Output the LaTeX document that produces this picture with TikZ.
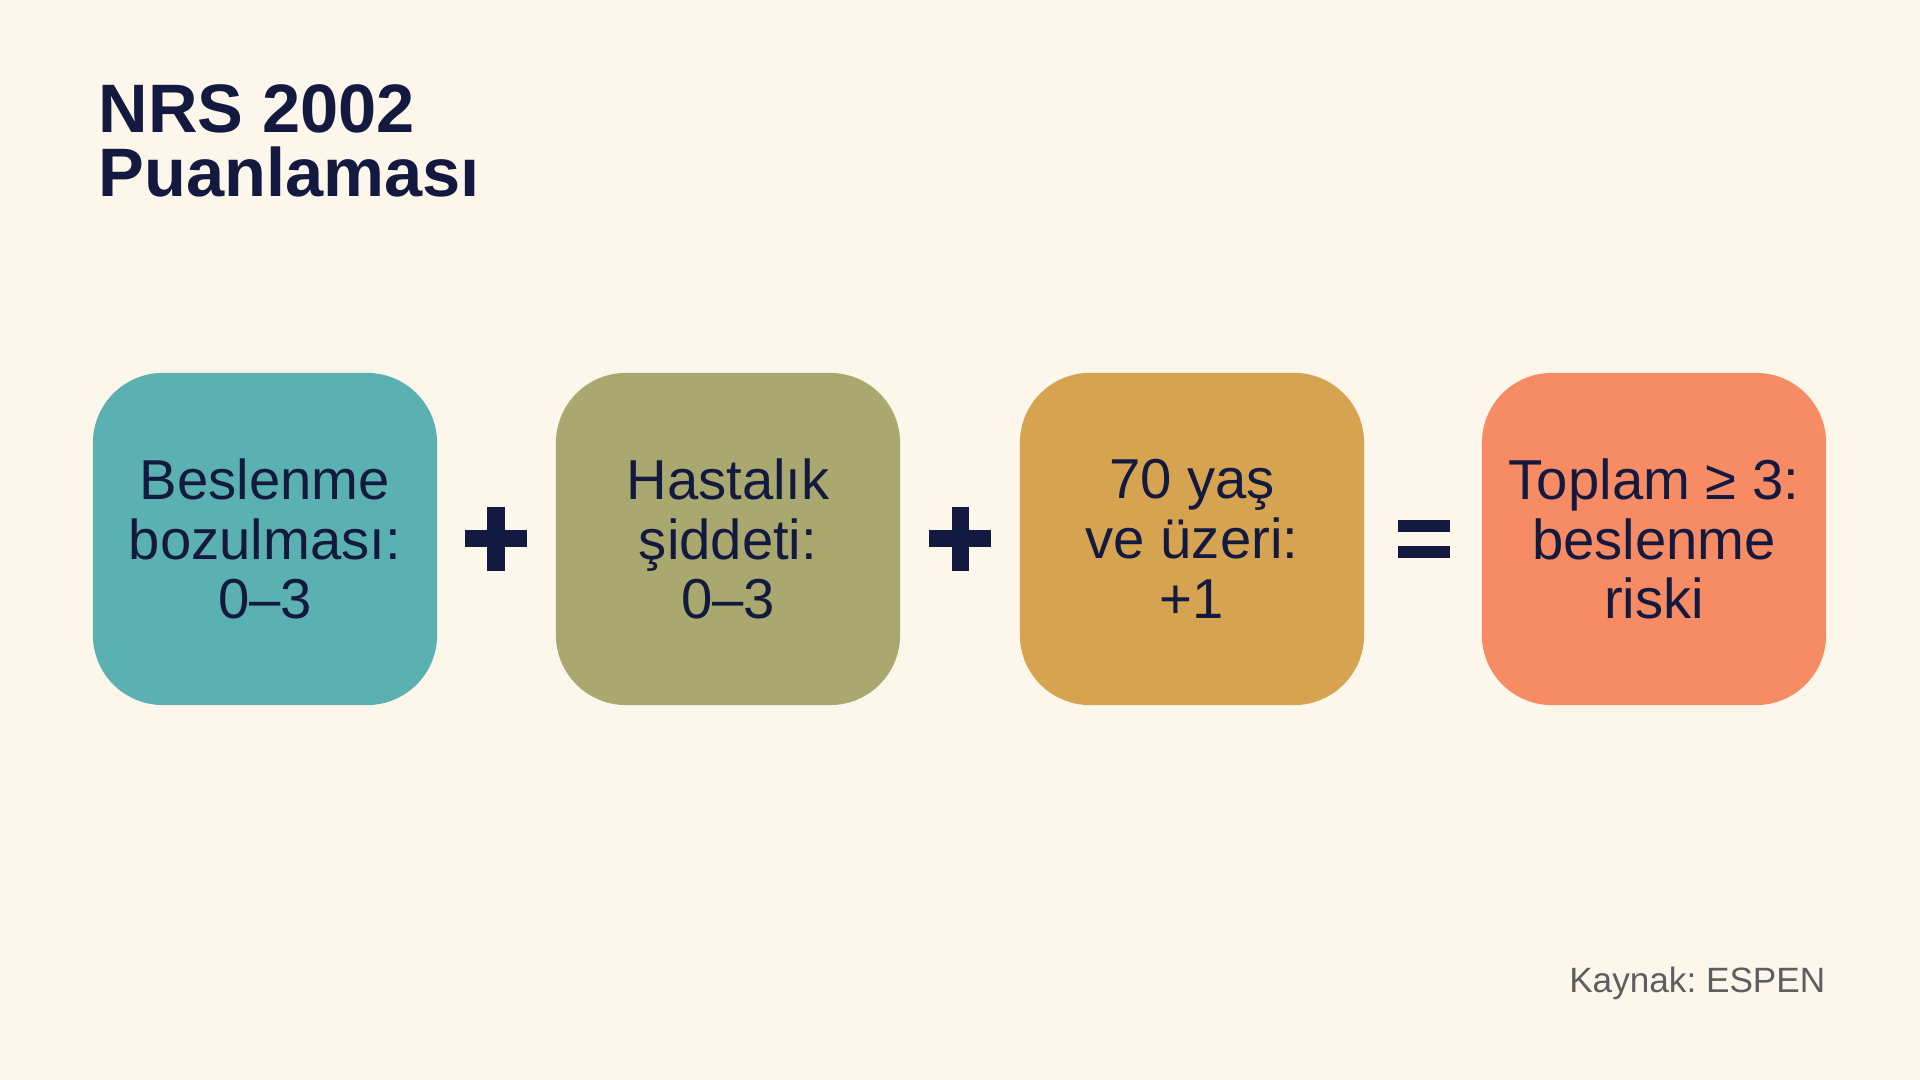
\documentclass[tikz,border=0pt]{standalone}
\usepackage{fontspec}
\setmainfont{Liberation Sans}
\frenchspacing
\definecolor{bg}{HTML}{FCF6EB}
\definecolor{ink}{HTML}{141A3F}
\definecolor{teal}{HTML}{5BB0B1}
\definecolor{olive}{HTML}{A9A86F}
\definecolor{gold}{HTML}{D6A450}
\definecolor{coral}{HTML}{F78B63}
\definecolor{note}{HTML}{5E5E5E}
\begin{document}
\begin{tikzpicture}[x=0.01cm,y=-0.01cm,
  box/.style={rectangle,rounded corners=0.7cm,minimum width=3.44cm,minimum height=3.32cm,inner sep=0pt,align=center,text=ink,font=\fontsize{16}{17}\selectfont},
  op/.style={draw=ink,line width=0.17cm}]
\def\cy{539};
\useasboundingbox[fill=bg] (0,0) rectangle (1920,1080);
\node[anchor=base west,inner sep=0pt,align=left,text=ink,font=\fontsize{19.5}{18.2}\selectfont\bfseries] (title) at (98,197) {NRS 2002\\Puanlaması};
\node[box,fill=teal] (nutr) at (265,\cy) {Beslenme\\bozulması:\\0--3};
\node[box,fill=olive] (dis) at (728,\cy) {Hastalık\\şiddeti:\\0--3};
\node[box,fill=gold] (age) at (1192,\cy) {70 yaş\\ve üzeri:\\+1};
\node[box,fill=coral] (sum) at (1654,\cy) {Toplam ≥ 3:\\beslenme\\riski};
\coordinate (plusA) at (496,\cy);
\coordinate (plusB) at (960,\cy);
\coordinate (eq) at (1424,\cy);
\foreach \p in {plusA,plusB}
  \draw[op] ([xshift=-0.31cm]\p) -- ([xshift=0.31cm]\p) ([yshift=-0.32cm]\p) -- ([yshift=0.32cm]\p);
\fill[ink] ([xshift=-0.26cm,yshift=-0.07cm]eq) rectangle ([xshift=0.26cm,yshift=-0.19cm]eq);
\fill[ink] ([xshift=-0.26cm,yshift=0.07cm]eq) rectangle ([xshift=0.26cm,yshift=0.19cm]eq);
\node[anchor=base east,inner sep=0pt,text=note,font=\fontsize{10}{12}\selectfont] (src) at (1826,993) {Kaynak: ESPEN};
\end{tikzpicture}
\end{document}
